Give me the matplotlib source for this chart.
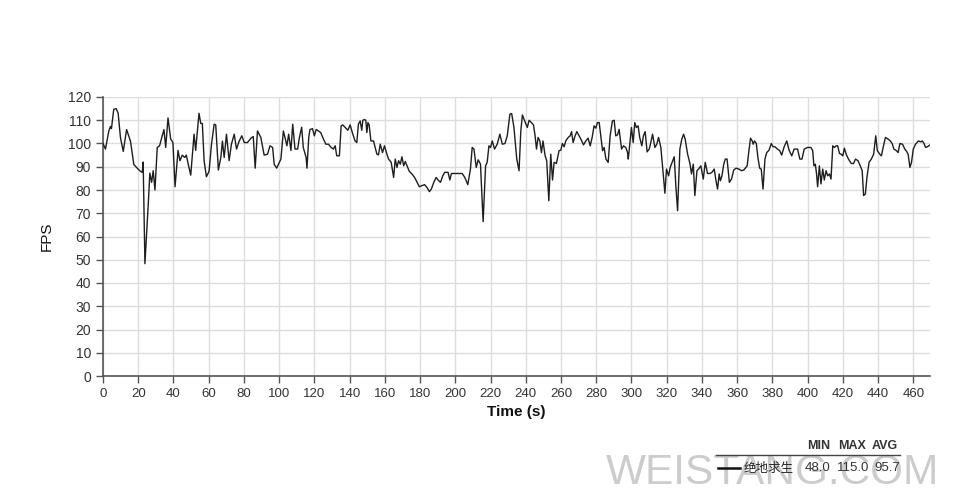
import matplotlib
matplotlib.use("Agg")
import matplotlib.pyplot as plt
from matplotlib.lines import Line2D
import numpy as np

# ---- data ----
time_s = [
    0, 1.4, 3.3, 4.2, 4.8, 6.1, 7.5, 8.6, 9.9, 11.5, 13.4, 15.6, 17.5, 19.4, 21.3, 22.3, 22.8, 23.8,
    25.7, 26.6, 27.6, 28.5, 29.5, 30.8, 32.1, 34.6, 35.6, 36.9, 38.4, 39.7, 40.9, 42.6, 43.7, 45,
    46.4, 47.3, 48.3, 49.8, 51.7, 52.6, 54.5, 55.5, 56.4, 57.4, 58.7, 60.2, 61.6, 63.1, 64, 65.5,
    66.9, 67.8, 68.8, 70.1, 71.6, 72.9, 74.5, 75.8, 77.3, 78.8, 80.2, 82, 84, 85.3, 86.4, 87.7,
    89.6, 91.5, 93.4, 94.8, 96.3, 97.2, 98.6, 101, 102.4, 103.5, 104.4, 105.4, 106.7, 107.7, 109,
    110.5, 111.5, 112.8, 113.7, 115.3, 115.8, 116.8, 117.5, 118.9, 120, 121, 122.3, 123.6, 125.1,
    126.5, 128, 129.5, 130.8, 131.8, 132.7, 134.2, 135.2, 136.1, 137.5, 139, 140.3, 141.7, 143.1,
    144.1, 145, 146, 146.9, 147.5, 148.5, 149.2, 149.8, 150.4, 151.1, 152.1, 153.6, 154.5, 155.5,
    156.4, 157.4, 158.7, 159.8, 161.2, 162.1, 163.6, 165, 165.9, 166.9, 167.8, 168.8, 169.7, 170.7,
    171.6, 172.6, 173.9, 175.4, 176.9, 178.3, 179.6, 181.1, 182.6, 183.9, 185.3, 186.4, 187.8,
    189.1, 190.2, 191.6, 192.9, 194, 195.9, 196.9, 197.8, 199.7, 202, 203.9, 205.4, 207.1, 208.6,
    209.6, 210.6, 211.9, 213, 214.3, 215.8, 217.2, 218.1, 219.1, 220, 221, 222.3, 223.8, 225.3,
    226.7, 228.2, 229.5, 231, 232, 233.3, 234.9, 236.2, 237.2, 238.1, 239.4, 240.9, 241.9, 243.2,
    244.4, 245.3, 246.1, 247, 248, 248.9, 249.8, 251, 251.9, 253.1, 254.2, 255.2, 256.1, 257.4,
    258.9, 259.9, 260.8, 261.8, 262.7, 264.1, 265.2, 266, 266.9, 268, 269, 270.3, 271.6, 272.8,
    274.1, 275.4, 276.6, 277.7, 278.8, 279.8, 280.7, 281.7, 282.6, 283.6, 284.5, 285.5, 286.8,
    287.9, 289.2, 290.2, 291.1, 292.1, 293, 294.4, 295.5, 296.8, 297.8, 298.2, 299.3, 300, 301,
    301.9, 302.8, 303.8, 304.7, 305.9, 306.8, 307.8, 308.9, 310.1, 311, 312, 313.3, 314.4, 315.4,
    316.7, 318, 319, 319.9, 321.1, 322, 323.1, 324.3, 325.2, 326.2, 327.5, 328.6, 329.6, 330.5,
    331.9, 333.2, 334.1, 335.1, 336, 337.2, 338.1, 339.4, 340.8, 341.9, 343.2, 344.6, 345.7, 347,
    348, 348.9, 349.8, 350.5, 351.4, 352.4, 353.3, 354.3, 355.6, 356.8, 358.1, 359.4, 361, 362.5,
    363.8, 365.7, 366.7, 367.6, 368.6, 369.1, 369.9, 370.9, 371.8, 372.8, 373.7, 374.7, 375.8,
    376.8, 378.1, 379.4, 380.4, 381.5, 382.9, 384.2, 385.3, 386.7, 388.2, 389.5, 391, 392.4, 394.3,
    395.6, 396.8, 398.1, 400, 401.9, 402.9, 403.6, 404.4, 405.1, 405.7, 406.7, 407.6, 408.6, 409.5,
    410.5, 411.4, 412.4, 413.3, 414.3, 415.2, 416.2, 417.1, 418.1, 419, 420, 420.9, 421.9, 423.2,
    424.8, 426.1, 427.2, 428.6, 429.9, 431, 431.8, 432.8, 433.7, 434.9, 436.2, 437.5, 438.7, 439.6,
    441, 441.9, 442.9, 444.2, 445.7, 447, 448, 449, 450.5, 451.4, 452.4, 453.9, 455.2, 456.2,
    457.1, 458.1, 459, 460, 461.3, 462.9, 464.2, 465.1, 466.1, 467, 468, 469.3,
]
fps = [
    100, 97.6, 105.4, 107.3, 106.4, 114.7, 115, 113, 102.6, 96.6, 106, 101, 91, 89.4, 88, 87.6, 92, 48.3,
    74, 87.3, 83.3, 88.3, 80, 98.3, 99, 106, 98.3, 111, 102, 100.4, 81.4, 97, 92.6, 95,
    94, 95, 91.4, 86.4, 104, 97, 113, 108.6, 108.6, 92.6, 85.7, 88, 99.7, 108.3, 108, 88.6,
    94, 101, 94, 104, 92.6, 99.7, 104, 97.6, 101, 103.3, 100.4, 100.4, 102.3, 103, 89.4, 105.4,
    102.6, 95, 95.4, 99, 98.3, 91, 89.4, 93.3, 105.4, 102, 99, 104, 97, 108.3, 97.6,
    97.6, 102.6, 107, 98.3, 94, 89.4, 102.6, 106, 106.4, 103.3, 106, 105.4, 104.7, 102,
    99.7, 99.7, 98.3, 97.6, 99, 94.7, 94.7, 107.6, 108, 106.9, 105.7, 108, 104.3, 101.1,
    100.4, 108.3, 109.7, 105.7, 110, 110.3, 110, 104.7, 109, 108, 101.1, 101.1, 98.3, 95.4,
    95.1, 99.7, 96.1, 99, 95.4, 93.3, 91.9, 85.4, 93.3, 89.7, 92.6, 91.1, 94.3, 90.4,
    92.3, 90.4, 88, 86.9, 85.4, 83.3, 81.4, 81.9, 82.3, 81.1, 79.3, 80.4, 83.3,
    85.4, 84.3, 83.3, 86.1, 87.6, 87.6, 84.3, 87.1, 87.1, 87.1, 87.1, 85.4, 82.3, 89,
    98.3, 97.6, 89.7, 93, 91.1, 66.4, 90.4, 91.9, 99, 98.3, 101.1, 97.6, 99.7, 104,
    99.7, 100, 103.3, 112.6, 112.9, 106.9, 93.3, 88.3, 105.4, 112.3, 109.7, 106.9, 110, 109,
    108, 103.3, 97.6, 102.6, 101.1, 96.1, 101.1, 94.7, 92.6, 75.4, 95.4, 84.3, 91.9, 91.4,
    96.9, 97.1, 100, 98.6, 101.1, 102.6, 103.3, 105.1, 100.4, 103.3, 105.1, 103.3, 101.4, 99.4,
    101.1, 102.3, 99, 102.6, 107.6, 106.6, 109, 109, 103.3, 96.9, 98.3, 93.3, 91.9,
    103.3, 109.7, 110, 103.3, 103.7, 106.1, 97.6, 99, 98.3, 96.1, 93.3, 101.9, 106.9, 100.4,
    109, 106.9, 107.6, 102.6, 99, 103.3, 105.1, 96.4, 97.6, 100.4, 104, 98.3, 99.7, 102.6,
    98.3, 86.9, 78.6, 89, 86.1, 89.7, 91.9, 94.3, 81.9, 71.1, 97.6, 101.9, 104, 101.9,
    95.4, 91.4, 86.9, 91.1, 77.6, 88.3, 89, 90.4, 84.7, 91.9, 87.1, 87.1, 87.6, 89,
    84, 80.4, 86.9, 84, 86.1, 91.1, 93.3, 93.3, 83.3, 84.7, 88.6, 89.4, 89, 88.3,
    88.6, 90.4, 96.9, 102.3, 101.1, 99.7, 101.1, 100, 94, 89.4, 89, 80.4, 93.3,
    96.1, 97.1, 100, 98.6, 98.6, 97.6, 96.9, 95, 98.6, 101.1, 97.1, 94.7, 97.6, 97.6,
    93.3, 93.3, 97.6, 98.3, 98.3, 96.9, 90.4, 91.1, 86.9, 81.4, 90.4, 82.6, 89, 84.3,
    88.3, 86.1, 86.9, 84.7, 99, 98.3, 99, 99, 95.7, 95.4, 94.7, 98, 95.4, 93.3,
    91.4, 91.4, 93.3, 92.6, 90.4, 88.3, 77.6, 78.3, 85.4, 91.9, 93.3, 95.4, 103.3, 96.9,
    95.4, 94.7, 98.3, 102.6, 101.9, 101.1, 100, 97.6, 96.9, 96.1, 100, 99.7, 97.6, 96.6,
    95.4, 89.7, 91.9, 97.6, 99.7, 101.1, 100.7, 101.1, 100, 98.3, 98.6, 99.3,
]
series_name = "绝地求生"
stat_headers = ["MIN", "MAX", "AVG"]
stat_values = ["48.0", "115.0", "95.7"]
x_ticks = list(range(0, 461, 20))
y_ticks = list(range(0, 121, 10))
watermark = "WEISTANG.COM"

# ---- figure ----
W, H = 960, 499
fig = plt.figure(figsize=(W / 100, H / 100), dpi=100)
fig.patch.set_facecolor("white")

def fx(px):
    return px / W

def fy(py):
    return 1 - py / H

sans = ["Liberation Sans", "DejaVu Sans"]

ax = fig.add_axes([fx(103), fy(376), fx(930) - fx(103), fy(97) - fy(376)])
ax.plot(time_s, fps, color="#1e1e1e", lw=1.0, zorder=3)
ax.set_xlim(0, 469.5)
ax.set_ylim(0, 120)
ax.set_xticks(x_ticks)
ax.set_yticks(y_ticks)
ax.grid(True, color="#dddddd", lw=1.0, zorder=0)
ax.set_axisbelow(True)
for s in ["top", "right"]:
    ax.spines[s].set_visible(False)
for s in ["left", "bottom"]:
    ax.spines[s].set_color("#555555")
    ax.spines[s].set_linewidth(1.2)
ax.tick_params(axis="both", colors="#555555", length=5, width=1, direction="out",
               labelcolor="#333333")
for lab in ax.get_xticklabels():
    lab.set_fontfamily(sans)
    lab.set_fontsize(9.5)
for lab in ax.get_yticklabels():
    lab.set_fontfamily(sans)
    lab.set_fontsize(10)
ax.set_xlabel("Time (s)", fontsize=11, fontweight="bold", family=sans, color="#111111",
              labelpad=4)
ax.set_ylabel("FPS", fontsize=11, family=sans, color="#111111", labelpad=10)

# ---- watermark ----
fig.text(fx(772), fy(473), watermark, ha="center", va="center", fontsize=30.5,
         family=sans, color="#cccccc", zorder=0)

# ---- legend / stats table ----
cjk = ["Noto Sans CJK SC", "DejaVu Sans"]
hx = [819, 852, 885]
for x, h in zip(hx, stat_headers):
    fig.text(fx(x), fy(446), h, ha="center", va="center", fontsize=9, fontweight="bold",
             family=sans, color="#333333", zorder=5)
fig.add_artist(Line2D([fx(716), fx(900)], [fy(455), fy(455)], color="#444444", lw=1,
                      transform=fig.transFigure))
fig.add_artist(Line2D([fx(718), fx(740)], [fy(468), fy(468)], color="#111111", lw=1.8,
                      transform=fig.transFigure, zorder=5))
fig.text(fx(744), fy(468), series_name, ha="left", va="center", fontsize=9, family=cjk,
         color="#222222", zorder=5)
vx = [818, 853, 887]
for x, v in zip(vx, stat_values):
    fig.text(fx(x), fy(468), v, ha="center", va="center", fontsize=9.5,
             family=sans, color="#333333", zorder=5)

fig.savefig("out.png", dpi=100)
